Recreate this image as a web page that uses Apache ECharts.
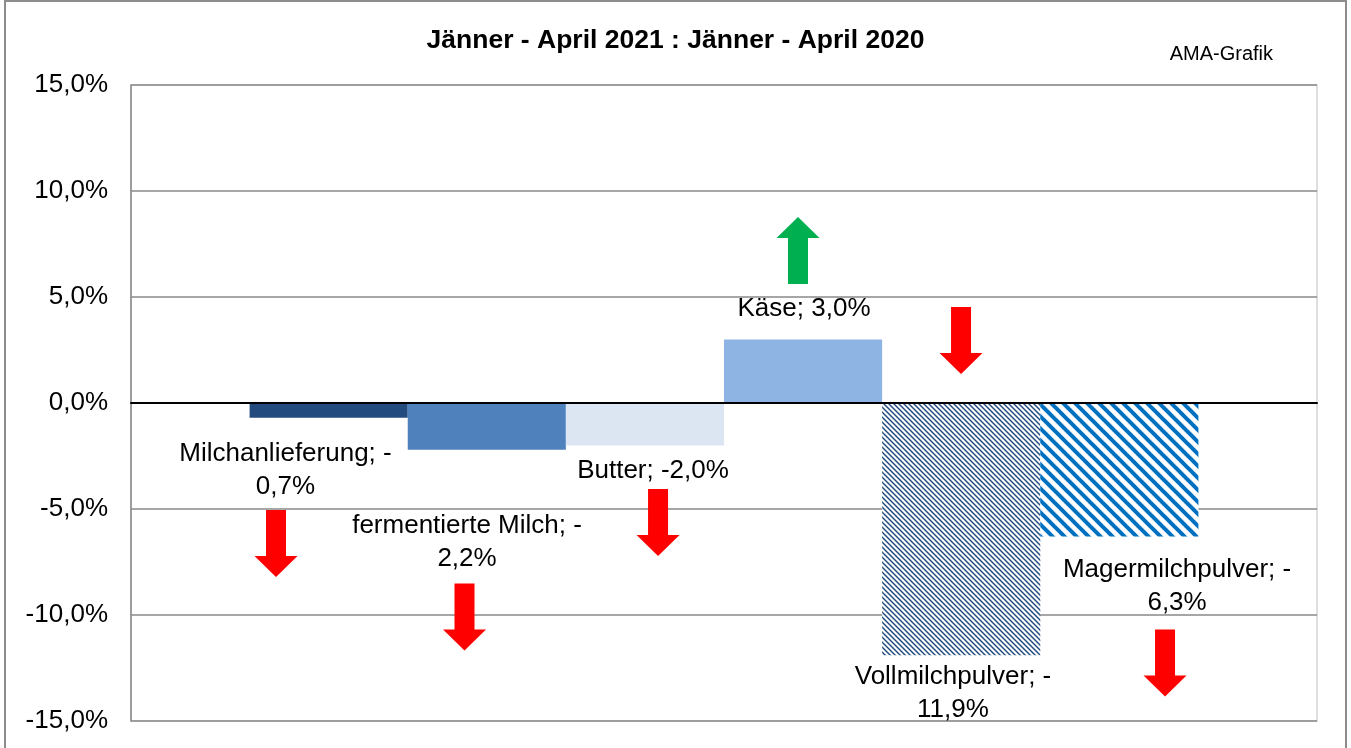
<!DOCTYPE html>
<html>
<head>
<meta charset="utf-8">
<style>html,body{margin:0;padding:0;background:#fff}#c{width:1351px;height:748px}</style>
<script src="https://cdn.jsdelivr.net/npm/echarts@6/dist/echarts.min.js"></script>
</head>
<body>
<div id="c"></div>
<script>
// ---- data ----
const categories = ['Milchanlieferung', 'fermentierte Milch', 'Butter', 'Käse', 'Vollmilchpulver', 'Magermilchpulver'];
const values = [-0.7, -2.2, -2.0, 3.0, -11.9, -6.3];
const labelWrap = [true, true, false, false, true, true];
const yTicks = [-15, -10, -5, 0, 5, 10, 15];
const titleText = 'Jänner - April 2021 : Jänner - April 2020';
const sourceText = 'AMA-Grafik';

// ---- annotation placement (in bar units / percent) ----
const labelPos = [[0.227, -3.16], [1.375, -6.56], [2.551, -3.21], [3.506, 4.43], [4.448, -13.7], [5.865, -8.66]];
const arrowPos = [[0.167, -6.63], [1.359, -10.09], [2.583, -5.64], [3.468, 7.19], [4.499, 2.95], [5.789, -12.26]];

function fmt(v) { return v.toFixed(1).replace('.', ',') + '%'; }
function labelText(i) {
  const v = values[i];
  return categories[i] + '; ' + (v < 0 ? '-' : '') + (labelWrap[i] ? '\n' : '') + fmt(Math.abs(v));
}
function hatch(size, color, width) {
  const c = document.createElement('canvas');
  c.width = size; c.height = size;
  const g = c.getContext('2d');
  g.fillStyle = '#fff'; g.fillRect(0, 0, size, size);
  g.strokeStyle = color; g.lineWidth = width;
  for (let k = -1; k <= 1; k++) {
    g.beginPath(); g.moveTo(-size, k * size - size); g.lineTo(2 * size, k * size + 2 * size); g.stroke();
  }
  return { image: c, repeat: 'repeat' };
}
const fills = ['#234B7E', '#4F81BD', '#DCE6F2', '#8EB4E3', hatch(5, '#1F497D', 1.4), hatch(12, '#0070C0', 4)];

const downArrow = 'path://M11.5,0 L31.5,0 L31.5,46 L43,46 L21.5,67 L0,46 L11.5,46 Z';
const upArrow = 'path://M21.5,0 L43,21 L31.5,21 L31.5,67 L11.5,67 L11.5,21 L0,21 Z';

const font = 'Arial, "Liberation Sans", sans-serif';
const series = categories.map((name, i) => ({
  type: 'bar', name: name, xAxisIndex: 0, yAxisIndex: 0,
  data: [values[i]], barGap: '0%', barCategoryGap: '20%',
  itemStyle: { color: fills[i] }, silent: true, z: 2
}));
series.push({
  type: 'scatter', xAxisIndex: 1, yAxisIndex: 0, symbolSize: 1, silent: true, z: 5,
  itemStyle: { color: 'rgba(0,0,0,0)', opacity: 1 },
  data: labelPos.map((p, i) => ({ value: p, name: labelText(i) })),
  label: { show: true, position: 'inside', formatter: p => p.name, color: '#000', opacity: 1, fontSize: 26, lineHeight: 33, fontFamily: font, align: 'center' }
});
series.push({
  type: 'scatter', xAxisIndex: 1, yAxisIndex: 0, silent: true, z: 4,
  symbolSize: [43, 67],
  data: arrowPos.map((p, i) => ({
    value: p,
    symbol: values[i] >= 0 ? upArrow : downArrow,
    itemStyle: { color: values[i] >= 0 ? '#00B050' : '#FF0000', opacity: 1 }
  }))
});

const chart = echarts.init(document.getElementById('c'));
chart.setOption({
  animation: false,
  backgroundColor: '#fff',
  title: [
    { text: titleText, left: 'center', top: 22, textStyle: { fontSize: 26.5, fontWeight: 'bold', color: '#000', fontFamily: font } },
    { text: sourceText, right: 73, top: 39, textStyle: { fontSize: 20, fontWeight: 'normal', color: '#000', fontFamily: font } }
  ],
  graphic: [{ type: 'rect', shape: { x: 5, y: 1, width: 1341, height: 770 }, style: { fill: 'none', stroke: '#8C8C8C', lineWidth: 2 }, silent: true, z: -1 }],
  grid: { left: 131, right: 34, top: 85, bottom: 27, show: true, borderColor: '#D4D4D4', borderWidth: 1.5, backgroundColor: 'transparent' },
  xAxis: [
    { type: 'category', data: [''], axisLine: { show: true, onZero: true, lineStyle: { color: '#000', width: 2 } }, axisTick: { show: false }, axisLabel: { show: false }, splitLine: { show: false }, z: 3 },
    { type: 'value', min: -0.75, max: 6.75, show: false, splitLine: { show: false } }
  ],
  yAxis: {
    type: 'value', min: yTicks[0], max: yTicks[yTicks.length - 1], interval: 5,
    axisLine: { show: true, onZero: false, lineStyle: { color: '#898989', width: 1.5 } },
    axisTick: { show: false },
    splitLine: { show: true, lineStyle: { color: '#898989', width: 1.5 } },
    axisLabel: { formatter: v => fmt(v), fontSize: 26, color: '#000', fontFamily: font, margin: 23 }
  },
  series: series
});
</script>
</body>
</html>
